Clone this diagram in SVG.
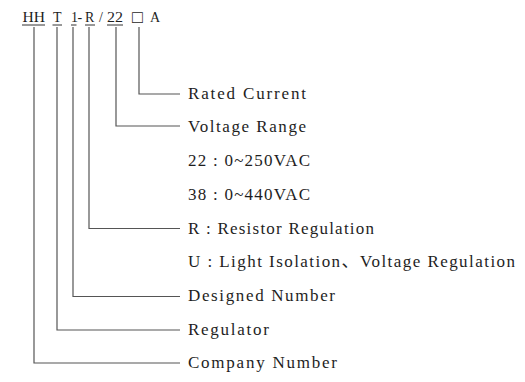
<svg xmlns="http://www.w3.org/2000/svg" width="525" height="382" viewBox="0 0 525 382">
<style>
.lbl{font-family:"Liberation Serif","Noto Sans CJK SC",serif;font-size:17px;fill:#1e1e1e}
.code{font-family:"Liberation Serif","DejaVu Serif","Noto Sans CJK SC",serif;font-size:14px;fill:#1e1e1e}
.ln{fill:none;stroke:#555;stroke-width:1.2}
.ul{stroke:#333;stroke-width:1}
</style>
<rect width="525" height="382" fill="#fff"/>
<g id="code">
<text class="code" x="22.5" y="22" textLength="22.5" lengthAdjust="spacingAndGlyphs">HH</text>
<text class="code" x="53" y="22">T</text>
<text class="code" x="71" y="22">1</text>
<text class="code" x="77.5" y="22">-</text>
<text class="code" x="85" y="22">R</text>
<text class="code" x="99" y="22">/</text>
<text class="code" x="107" y="22" textLength="16" lengthAdjust="spacingAndGlyphs">22</text>
<text class="code" x="132" y="23" style="font-size:18px">□</text>
<text class="code" x="150" y="22">A</text>
<line class="ul" x1="22" y1="25" x2="45" y2="25"/>
<line class="ul" x1="52.5" y1="25" x2="62" y2="25"/>
<line class="ul" x1="71" y1="25" x2="76.5" y2="25"/>
<line class="ul" x1="85" y1="25" x2="95" y2="25"/>
<line class="ul" x1="107" y1="25" x2="123" y2="25"/>
</g>
<g id="connectors">
<path class="ln" d="M139,27 V94 H180"/>
<path class="ln" d="M116,27 V126 H180"/>
<path class="ln" d="M89,27 V228.5 H180"/>
<path class="ln" d="M73,27 V296.5 H180"/>
<path class="ln" d="M57,27 V330 H180"/>
<path class="ln" d="M34,27 V363 H180"/>
</g>
<g id="rated-current"><text class="lbl" x="188" y="99" textLength="118" lengthAdjust="spacing">Rated  Current</text></g>
<g id="voltage-range"><text class="lbl" x="188" y="132" textLength="118" lengthAdjust="spacing">Voltage Range</text></g>
<g id="v22"><text class="lbl" x="188" y="166" textLength="122" lengthAdjust="spacing">22 : 0~250VAC</text></g>
<g id="v38"><text class="lbl" x="188" y="200" textLength="122" lengthAdjust="spacing">38 : 0~440VAC</text></g>
<g id="r-resistor"><text class="lbl" x="188" y="233.5" textLength="186" lengthAdjust="spacing">R : Resistor Regulation</text></g>
<g id="u-light"><text class="lbl" x="188" y="267" textLength="327" lengthAdjust="spacing">U : Light  Isolation、Voltage  Regulation</text></g>
<g id="designed-number"><text class="lbl" x="188" y="301" textLength="147" lengthAdjust="spacing">Designed Number</text></g>
<g id="regulator"><text class="lbl" x="188" y="334.5" textLength="81" lengthAdjust="spacing">Regulator</text></g>
<g id="company-number"><text class="lbl" x="188" y="368" textLength="149" lengthAdjust="spacing">Company Number</text></g>
</svg>
